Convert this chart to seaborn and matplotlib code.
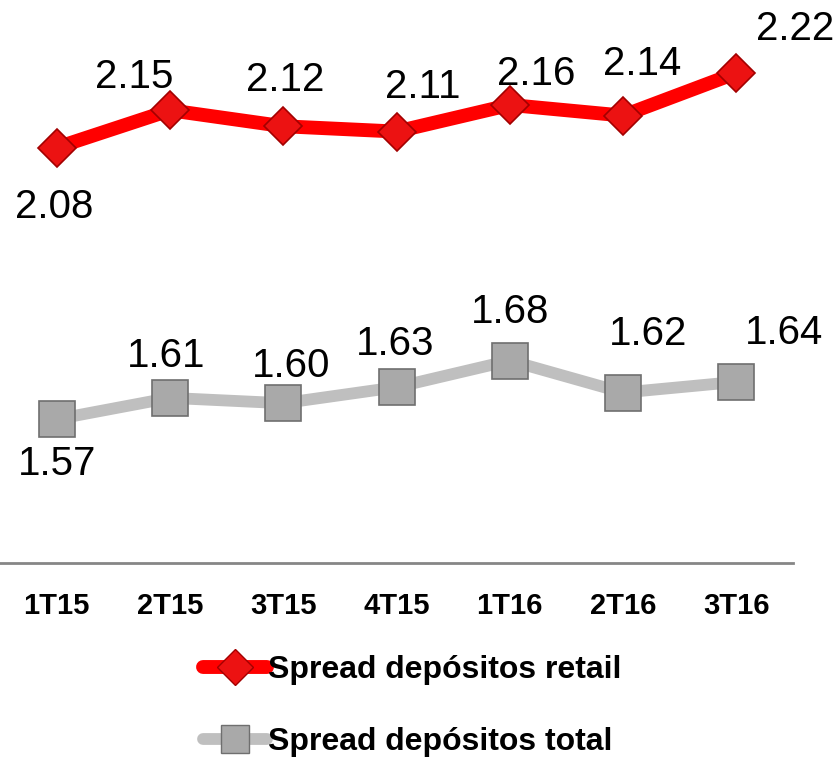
import matplotlib
matplotlib.use("Agg")
import matplotlib.pyplot as plt
import seaborn as sns
import pandas as pd

quarters = ["1T15", "2T15", "3T15", "4T15", "1T16", "2T16", "3T16"]
retail = [2.08, 2.15, 2.12, 2.11, 2.16, 2.14, 2.22]
total = [1.57, 1.61, 1.60, 1.63, 1.68, 1.62, 1.64]
series_names = ["Spread depósitos retail", "Spread depósitos total"]

# label offsets (points) relative to each marker
retail_offsets = [(-1.5, -42.5), (-26, 24), (1.5, 33), (19, 32), (19, 22), (14, 37), (42, 32)]
total_offsets = [(0, -32), (-3, 30), (6, 27), (-1, 31), (0, 35), (18, 42), (34, 35)]

sns.set_theme(style="white")
plt.rcParams["font.family"] = ["Liberation Sans", "DejaVu Sans"]
plt.rcParams["text.color"] = "black"
plt.rcParams["xtick.color"] = "black"

df = pd.DataFrame({
    "quarter": quarters * 2,
    "value": retail + total,
    "series": [series_names[0]] * len(quarters) + [series_names[1]] * len(quarters),
})

fig = plt.figure(figsize=(8.38, 7.6), dpi=100)
ax = fig.add_axes([0.0, 1 - 563 / 760, 793 / 838, 563 / 760])

styles = {
    series_names[0]: dict(color="#ff0000", lw=10, marker="D", ms=19, mfc="#ec1212", mec="#a30000", mew=1.2),
    series_names[1]: dict(color="#bfbfbf", lw=8.5, marker="s", ms=26, mfc="#a9a9a9", mec="#6f6f6f", mew=1.2),
}

for name in series_names:
    st = styles[name]
    sub = df[df["series"] == name]
    sns.lineplot(data=sub, x="quarter", y="value", ax=ax, sort=False,
                 color=st["color"], linewidth=st["lw"], marker=st["marker"],
                 markersize=st["ms"], markerfacecolor=st["mfc"],
                 markeredgecolor=st["mec"], markeredgewidth=st["mew"],
                 label=name, legend=False, solid_capstyle="round")

for vals, offs in ((retail, retail_offsets), (total, total_offsets)):
    for i, (v, off) in enumerate(zip(vals, offs)):
        ax.annotate(f"{v:.2f}", (i, v), xytext=off, textcoords="offset points",
                    ha="center", va="center", fontsize=29, color="black")

ax.set_xlim(-0.5, len(quarters) - 0.5)
ax.set_ylim(1.30, 2.357)
ax.set_xlabel("")
ax.set_ylabel("")
ax.set_yticks([])
for s in ("top", "left", "right"):
    ax.spines[s].set_visible(False)
ax.spines["bottom"].set_color("#868686")
ax.spines["bottom"].set_linewidth(2)
ax.tick_params(axis="x", length=0, pad=21, labelsize=21, labelcolor="black")
for t in ax.get_xticklabels():
    t.set_fontweight("bold")

handles = []
for name, scale in zip(series_names, (0.95, 0.8)):
    st = styles[name]
    h = plt.Line2D([], [], color=st["color"], lw=st["lw"], marker=st["marker"],
                   ms=st["ms"] * scale, mfc=st["mfc"], mec=st["mec"], mew=1,
                   solid_capstyle="round")
    handles.append(h)
leg = fig.legend(handles, series_names, loc="upper left",
                 bbox_to_anchor=(203 / 838, 1 - 655 / 760), frameon=False,
                 prop={"weight": "bold", "size": 23}, handlelength=2.0,
                 handletextpad=0.05, labelspacing=1.32, borderpad=0, borderaxespad=0)
for txt in leg.get_texts():
    txt.set_color("black")

fig.savefig("out.png", dpi=100)
